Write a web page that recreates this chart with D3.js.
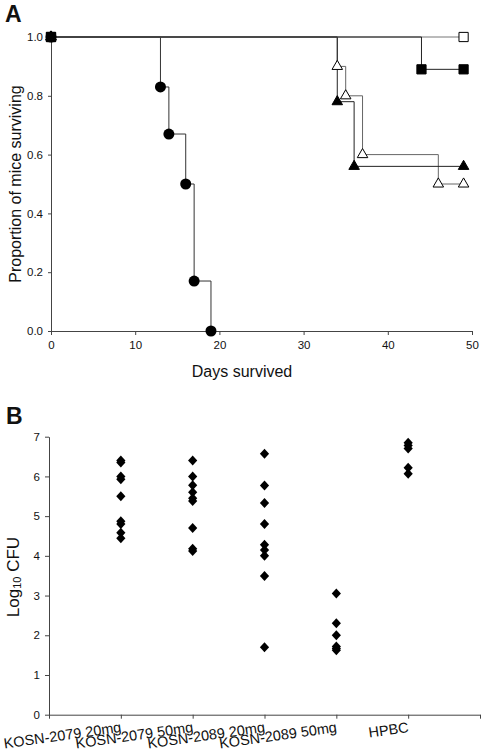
<!DOCTYPE html>
<html><head><meta charset="utf-8">
<script src="https://cdn.jsdelivr.net/npm/d3@7"></script>
<style>body{margin:0;background:#fff}svg{display:block}text{font-family:Arial,"Liberation Sans",sans-serif;fill:#111}</style>
</head><body>
<svg id="c" width="482" height="750"></svg>
<script>
// ---- Panel A data: Kaplan-Meier survival ----
const daysTicks = [0, 10, 20, 30, 40, 50];
const propTicks = [0, 0.2, 0.4, 0.6, 0.8, 1.0];
const circleDays = [0, 13, 14, 16, 17, 19];
const circleProp = [1.0, 0.83, 0.67, 0.5, 0.17, 0.0];
const openTriDays = [0, 34, 35, 37, 46, 49];
const openTriProp = [1.0, 0.9, 0.8, 0.6, 0.5, 0.5];
const fillTriDays = [0, 34, 36, 49];
const fillTriProp = [1.0, 0.78, 0.56, 0.56];
const fillSqDays = [0, 44, 49];
const fillSqProp = [1.0, 0.89, 0.89];
const openSqDays = [0, 49];
const openSqProp = [1.0, 1.0];

// ---- Panel B data: Log10 CFU ----
const groups = ["KOSN-2079 20mg", "KOSN-2079 50mg", "KOSN-2089 20mg", "KOSN-2089 50mg", "HPBC"];
const cfuTicks = [0, 1, 2, 3, 4, 5, 6, 7];
const cfu2079_20 = [6.4, 6.35, 6.0, 5.93, 5.5, 4.87, 4.8, 4.58, 4.44];
const cfu2079_50 = [6.4, 6.0, 5.78, 5.6, 5.45, 5.38, 4.7, 4.18, 4.12];
const cfu2089_20 = [6.57, 5.77, 5.33, 4.8, 4.28, 4.15, 4.0, 3.49, 1.7];
const cfu2089_50 = [3.05, 2.3, 2.0, 1.72, 1.67, 1.62];
const cfuHPBC = [6.85, 6.78, 6.7, 6.22, 6.07];

const svg = d3.select("#c");
const axisCol = "#444";

// ===== Panel A =====
const xA = d3.scaleLinear().domain([0, 50]).range([51, 472]);
const yA = d3.scaleLinear().domain([0, 1]).range([331, 37]);

const gA = svg.append("g");
const axA = gA.append("g").attr("transform", "translate(0,331)")
  .call(d3.axisBottom(xA).tickValues(daysTicks).tickSize(4).tickPadding(6).tickSizeOuter(0));
const ayA = gA.append("g").attr("transform", "translate(51,0)")
  .call(d3.axisLeft(yA).tickValues(propTicks).tickFormat(d3.format(".1f")).tickSize(3).tickPadding(5).tickSizeOuter(0));
[axA, ayA].forEach(a => {
  a.selectAll("path,line").attr("stroke", axisCol);
  a.selectAll("text").attr("font-size", "11.5px").attr("font-family", "Arial,'Liberation Sans',sans-serif").attr("fill", "#111");
});

const line = d3.line().x(d => xA(d[0])).y(d => yA(d[1])).curve(d3.curveStepAfter);
const zip = (a, b) => a.map((v, i) => [v, b[i]]);
const seriesA = [
  { pts: zip(circleDays, circleProp), col: "#333", m: "circle" },
  { pts: zip(openTriDays, openTriProp), col: "#666", m: "openTri" },
  { pts: zip(fillTriDays, fillTriProp), col: "#222", m: "fillTri" },
  { pts: zip(openSqDays, openSqProp), col: "#777", m: "openSq" },
  { pts: zip(fillSqDays, fillSqProp), col: "#222", m: "fillSq" }
];
seriesA.forEach(s => {
  gA.append("path").attr("d", line(s.pts)).attr("fill", "none").attr("stroke", s.col).attr("stroke-width", 1);
});
const tri = d3.symbol().type(d3.symbolTriangle).size(48);
const sq = d3.symbol().type(d3.symbolSquare).size(85);
seriesA.forEach(s => {
  const g = gA.append("g");
  s.pts.forEach(p => {
    const cx = xA(p[0]), cy = yA(p[1]);
    if (s.m === "circle") {
      g.append("circle").attr("cx", cx).attr("cy", cy).attr("r", 5.5).attr("fill", "#000");
    } else if (s.m === "openTri" || s.m === "fillTri") {
      g.append("path").attr("d", tri()).attr("transform", `translate(${cx},${cy})`)
        .attr("fill", s.m === "fillTri" ? "#000" : "#fff").attr("stroke", "#000").attr("stroke-width", 1);
    } else {
      g.append("path").attr("d", sq()).attr("transform", `translate(${cx},${cy})`)
        .attr("fill", s.m === "fillSq" ? "#000" : "#fff").attr("stroke", "#000").attr("stroke-width", 1);
    }
  });
});

gA.append("text").attr("x", 242).attr("y", 377).attr("text-anchor", "middle").attr("font-size", "16px").text("Days survived");
gA.append("text").attr("transform", "translate(15,184) rotate(-90)").attr("text-anchor", "middle")
  .attr("dominant-baseline", "central").attr("font-size", "16px").text("Proportion of mice surviving");
svg.append("text").attr("x", 5).attr("y", 22).attr("font-size", "23px").attr("font-weight", "bold").text("A");

// ===== Panel B =====
const xB = d3.scaleLinear().domain([0, 6]).range([49, 480]);
const yB = d3.scaleLinear().domain([0, 7]).range([714.7, 436.7]);
const gB = svg.append("g");
const axB = gB.append("g").attr("transform", "translate(0,714.7)")
  .call(d3.axisBottom(xB).tickValues(d3.range(0, 7)).tickFormat("").tickSize(4).tickSizeOuter(0));
const ayB = gB.append("g").attr("transform", "translate(49,0)")
  .call(d3.axisLeft(yB).tickValues(cfuTicks).tickFormat(d3.format("d")).tickSize(4).tickPadding(5).tickSizeOuter(0));
[axB, ayB].forEach(a => {
  a.selectAll("path,line").attr("stroke", axisCol);
  a.selectAll("text").attr("font-size", "11.5px").attr("font-family", "Arial,'Liberation Sans',sans-serif").attr("fill", "#111");
});
groups.forEach((gname, i) => {
  gB.append("text").attr("transform", `translate(${xB(i + 1) + 1},732) rotate(-8)`)
    .attr("text-anchor", "end").attr("font-size", "14.5px").text(gname);
});
const cfuData = [cfu2079_20, cfu2079_50, cfu2089_20, cfu2089_50, cfuHPBC];
const diamond = "M0,-5L4.6,0L0,5L-4.6,0Z";
cfuData.forEach((vals, i) => {
  vals.forEach(v => {
    gB.append("path").attr("d", diamond).attr("transform", `translate(${xB(i + 1)},${yB(v)})`).attr("fill", "#000");
  });
});
const yl = gB.append("text").attr("transform", "translate(13,577) rotate(-90)").attr("text-anchor", "middle")
  .attr("dominant-baseline", "central").attr("font-size", "17px");
yl.append("tspan").text("Log");
yl.append("tspan").attr("font-size", "11px").attr("dy", 4).text("10");
yl.append("tspan").attr("dy", -4).text(" CFU");
svg.append("text").attr("x", 6).attr("y", 424).attr("font-size", "23px").attr("font-weight", "bold").text("B");
</script>
</body></html>
